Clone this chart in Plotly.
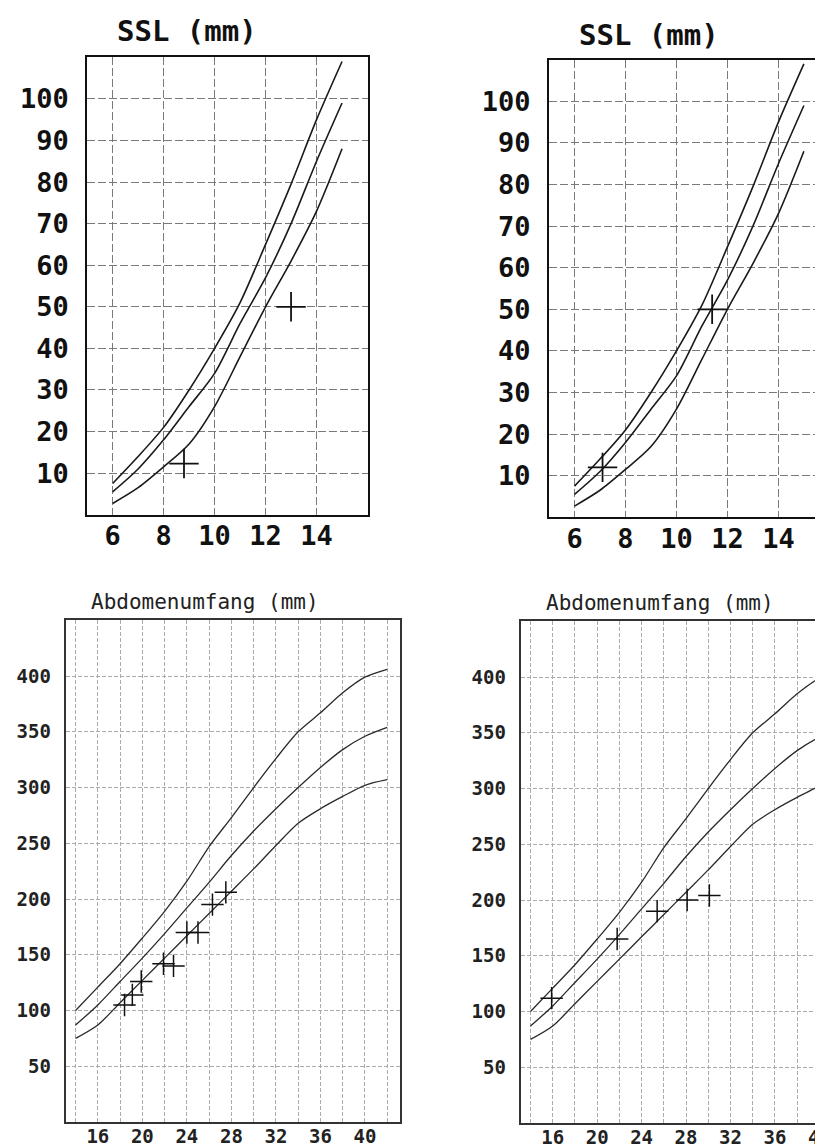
import plotly.graph_objects as go

# ---------------- data ----------------
ssl_weeks = [6, 7, 8, 9, 10, 11, 12, 13, 14, 15]
ssl_upper = [7.5, 14, 21, 30, 40, 51, 65, 79.5, 95, 109]
ssl_mid = [5.5, 11, 18, 26, 34, 46, 57, 70, 85, 99]
ssl_lower = [2.7, 6.5, 11.5, 17, 26, 38, 50, 61, 73, 88]

ssl_left_x = [8.8, 13.0]
ssl_left_y = [12.3, 50]
ssl_right_x = [7.1, 11.4]
ssl_right_y = [12, 50]

ssl_xticks = [6, 8, 10, 12, 14]
ssl_yticks = [10, 20, 30, 40, 50, 60, 70, 80, 90, 100]

abd_weeks = [14, 16, 18, 20, 22, 24, 26, 28, 30, 32, 34, 36, 38, 40, 42]
abd_upper = [100, 121, 142, 165, 189, 216, 247, 273, 300, 326, 350, 367, 385, 399, 406]
abd_mid = [87, 105, 126, 147, 169, 192, 215, 239, 261, 281, 300, 318, 334, 346, 354]
abd_lower = [75, 87, 107, 127, 147, 167, 187, 207, 227, 248, 268, 281, 292, 302, 307]

abd_left_x = [18.4, 19.1, 19.9, 21.9, 22.8, 24.0, 25.0, 26.3, 27.5]
abd_left_y = [105, 114, 126, 142, 140, 170, 170, 195, 206]
abd_right_x = [15.9, 21.8, 25.4, 28.1, 30.1]
abd_right_y = [112, 165, 190, 200, 204]

abd_xgrid = [14, 16, 18, 20, 22, 24, 26, 28, 30, 32, 34, 36, 38, 40, 42]
abd_xlabels = ["", "16", "", "20", "", "24", "", "28", "", "32", "", "36", "", "40", ""]
abd_yticks = [50, 100, 150, 200, 250, 300, 350, 400]

ssl_title = "SSL (mm)"
abd_title = "Abdomenumfang (mm)"

# ---------------- figure ----------------
W, H = 823, 1146
MONO = "DejaVu Sans Mono"

fig = go.Figure()


def add_curves(xa, ya, xs, ys_list, color, width, shape):
    for ys in ys_list:
        fig.add_trace(go.Scatter(
            x=xs, y=ys, mode="lines", xaxis=xa, yaxis=ya,
            line=dict(color=color, width=width, shape=shape, smoothing=0.8),
            hoverinfo="skip"))


def add_points(xa, ya, xs, ys, size, lw):
    fig.add_trace(go.Scatter(
        x=xs, y=ys, mode="markers", xaxis=xa, yaxis=ya,
        marker=dict(symbol="cross-thin", size=size,
                    line=dict(width=lw, color="#111111")),
        hoverinfo="skip"))


# SSL panels
add_curves("x", "y", ssl_weeks, [ssl_upper, ssl_mid, ssl_lower], "#1a1a1a", 1.6, "spline")
add_points("x", "y", ssl_left_x, ssl_left_y, 21, 1.8)
add_curves("x2", "y2", ssl_weeks, [ssl_upper, ssl_mid, ssl_lower], "#1a1a1a", 1.6, "spline")
add_points("x2", "y2", ssl_right_x, ssl_right_y, 21, 1.8)

# Abdomen panels
add_curves("x3", "y3", abd_weeks, [abd_upper, abd_mid, abd_lower], "#2a2a2a", 1.3, "spline")
add_points("x3", "y3", abd_left_x, abd_left_y, 16, 1.5)
add_curves("x4", "y4", abd_weeks, [abd_upper, abd_mid, abd_lower], "#2a2a2a", 1.3, "spline")
add_points("x4", "y4", abd_right_x, abd_right_y, 16, 1.5)

ssl_tickfont = dict(family=MONO, size=27, color="#111111", weight="bold")
abd_tickfont = dict(family=MONO, size=19, color="#222222", weight="bold")

ssl_grid = dict(showgrid=True, gridcolor="#7a7a7a", gridwidth=1, griddash="8px,3px",
                zeroline=False, ticks="", showline=True, linecolor="#111111", linewidth=2)
abd_grid = dict(showgrid=True, gridcolor="#ababab", gridwidth=1, griddash="4px,2px",
                zeroline=False, ticks="", showline=True, linecolor="#333333", linewidth=2)

fig.update_layout(
    width=W, height=H,
    margin=dict(l=0, r=0, t=0, b=0),
    paper_bgcolor="white", plot_bgcolor="white",
    showlegend=False,
    # top-left SSL
    xaxis=dict(domain=[80 / W, 363.5 / W], range=[5, 16], tickvals=ssl_xticks,
               tickfont=ssl_tickfont, mirror=True, anchor="y",
               ticklabelstandoff=-4, **ssl_grid),
    yaxis=dict(domain=[1 - 506.7 / H, 1 - 49.3 / H], range=[0, 110], tickvals=ssl_yticks,
               tickfont=ssl_tickfont, mirror=True, anchor="x",
               ticklabelstandoff=11, **ssl_grid),
    # top-right SSL (cut at the right edge)
    xaxis2=dict(domain=[547 / W, 1.0], range=[5, 15.71], tickvals=ssl_xticks,
                tickfont=ssl_tickfont, mirror=True, anchor="y2",
                ticklabelstandoff=-4, ticklabeloverflow="allow", **ssl_grid),
    yaxis2=dict(domain=[1 - 509.3 / H, 1 - 51.7 / H], range=[0, 110], tickvals=ssl_yticks,
                tickfont=ssl_tickfont, mirror=False, anchor="x2",
                ticklabelstandoff=11, **ssl_grid),
    # bottom-left abdomen
    xaxis3=dict(domain=[58.3 / W, 396 / W], range=[13.11, 43.12], tickvals=abd_xgrid,
                ticktext=abd_xlabels, tickfont=abd_tickfont, mirror=True, anchor="y3",
                ticklabelstandoff=-4, **abd_grid),
    yaxis3=dict(domain=[1 - 1114 / H, 1 - 612.3 / H], range=[0, 450], tickvals=abd_yticks,
                tickfont=abd_tickfont, mirror=True, anchor="x3",
                ticklabelstandoff=9, **abd_grid),
    # bottom-right abdomen (cut at the right edge)
    xaxis4=dict(domain=[518.3 / W, 1.0], range=[13.11, 40.24], tickvals=abd_xgrid,
                ticktext=abd_xlabels, tickfont=abd_tickfont, mirror=True, anchor="y4",
                ticklabelstandoff=-4, ticklabeloverflow="allow", **abd_grid),
    yaxis4=dict(domain=[1 - 1115 / H, 1 - 613.3 / H], range=[0, 450], tickvals=abd_yticks,
                tickfont=abd_tickfont, mirror=False, anchor="x4",
                ticklabelstandoff=9, **abd_grid),
)

titles = [
    (ssl_title, 181 / W, 1 - 23 / H, 29, "bold", "#111111"),
    (ssl_title, 648 / W, 1 - 27 / H, 29, "bold", "#111111"),
    (abd_title, 199.5 / W, 1 - 594 / H, 21, "normal", "#222222"),
    (abd_title, 659 / W, 1 - 595 / H, 21, "normal", "#222222"),
]
for text, x, y, size, weight, color in titles:
    fig.add_annotation(text=text, x=x, y=y, xref="paper", yref="paper",
                       xanchor="center", yanchor="middle", showarrow=False,
                       font=dict(family=MONO, size=size, color=color, weight=weight))

fig.write_html("out.html")
